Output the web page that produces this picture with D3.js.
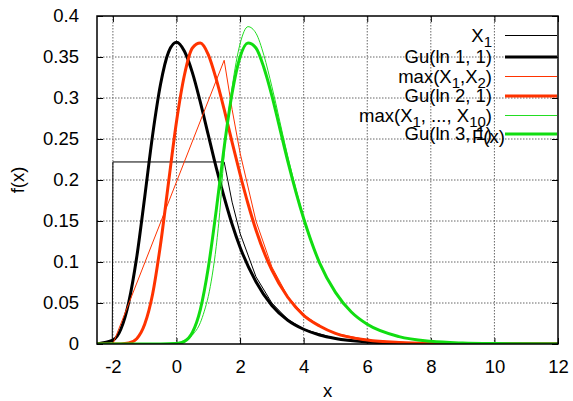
<!DOCTYPE html>
<meta charset="utf-8">
<style>
body { margin: 0; background: #fff; }
svg text { font-family: "Liberation Sans", Arial, sans-serif; font-size: 18.5px; fill: #000; }
.grid line { stroke: #666; stroke-width: 1; stroke-dasharray: 1.5,1.5; }
</style>
<svg width="573" height="401" id="chart"></svg>
<script src="https://d3js.org/d3.v7.min.js"></script>
<script>
// values
var xX1 = [-2.5, -2.02, -2, 1.5, 1.75, 2, 2.5, 3, 3.5, 4, 5, 6, 8, 12];
var yX1 = [0, 0, 0.222, 0.222, 0.173, 0.135, 0.082, 0.050, 0.030, 0.018, 0.0067, 0.0025, 0.0003, 0];

var xGu1 = [-2.5, -2, -1.75, -1.5, -1.25, -1, -0.75, -0.5, -0.25, 0, 0.25, 0.5, 0.75, 1, 1.25, 1.5, 1.75, 2, 2.5, 3, 3.5, 4, 4.5, 5, 6, 7, 8, 10, 12];
var yGu1 = [0.0001, 0.0046, 0.018, 0.051, 0.106, 0.179, 0.255, 0.317, 0.356, 0.368, 0.357, 0.331, 0.295, 0.255, 0.215, 0.179, 0.146, 0.118, 0.076, 0.047, 0.029, 0.018, 0.011, 0.0067, 0.0025, 0.0009, 0.0003, 0, 0];

var xMax2 = [-2.5, -2, 1.5, 1.75, 2, 2.5, 3, 3.5, 4, 4.5, 5, 6, 7, 8, 10, 12];
var yMax2 = [0, 0, 0.346, 0.286, 0.233, 0.150, 0.094, 0.058, 0.036, 0.022, 0.013, 0.0049, 0.0018, 0.0007, 0, 0];

var xGu2 = [-2.5, -2, -1.75, -1.5, -1.25, -1, -0.75, -0.5, -0.25, 0, 0.25, 0.5, 0.75, 1, 1.25, 1.5, 1.75, 2, 2.25, 2.5, 3, 3.5, 4, 4.5, 5, 6, 7, 8, 10, 12];
var yGu2 = [0, 0, 0.0001, 0.0012, 0.0065, 0.024, 0.061, 0.122, 0.197, 0.271, 0.328, 0.361, 0.367, 0.353, 0.323, 0.286, 0.246, 0.207, 0.171, 0.139, 0.090, 0.057, 0.035, 0.022, 0.013, 0.0049, 0.0018, 0.0007, 0.0001, 0];

var xMax10 = [-2.5, -2, -0.5, 0, 0.25, 0.5, 0.75, 0.875, 1, 1.125, 1.25, 1.375, 1.5, 1.75, 2, 2.25, 2.5, 2.75, 3, 3.5, 4, 4.5, 5, 5.5, 6, 7, 8, 9, 10, 12];
var yMax10 = [0, 0, 0.0001, 0.0015, 0.0043, 0.011, 0.026, 0.040, 0.058, 0.084, 0.119, 0.167, 0.232, 0.313, 0.366, 0.387, 0.379, 0.352, 0.314, 0.229, 0.155, 0.100, 0.063, 0.039, 0.024, 0.009, 0.0033, 0.0012, 0.0005, 0.0001];

var xGu3 = [-2.5, -0.5, 0, 0.25, 0.5, 0.75, 1, 1.25, 1.5, 1.75, 2, 2.25, 2.5, 2.75, 3, 3.25, 3.5, 4, 4.5, 5, 5.5, 6, 7, 8, 9, 10, 12];
var yGu3 = [0, 0, 0.0005, 0.0032, 0.014, 0.042, 0.093, 0.163, 0.240, 0.306, 0.350, 0.367, 0.361, 0.337, 0.303, 0.263, 0.223, 0.153, 0.099, 0.063, 0.039, 0.024, 0.009, 0.0033, 0.0012, 0.0005, 0.0001];

var xTicks = [-2, 0, 2, 4, 6, 8, 10, 12];
var yTicks = [0, 0.05, 0.1, 0.15, 0.2, 0.25, 0.3, 0.35, 0.4];

var series = [
  {name: "X1", xs: xX1, ys: yX1, color: "#000000", w: 1, linear: true},
  {name: "Gu1", xs: xGu1, ys: yGu1, color: "#000000", w: 3},
  {name: "max2", xs: xMax2, ys: yMax2, color: "#ff3300", w: 1, linear: true},
  {name: "Gu2", xs: xGu2, ys: yGu2, color: "#ff3300", w: 3},
  {name: "max10", xs: xMax10, ys: yMax10, color: "#22dd22", w: 1},
  {name: "Gu3", xs: xGu3, ys: yGu3, color: "#11dd11", w: 3}
];

var pL = 97, pR = 558, pT = 16, pB = 344;
var svg = d3.select("#chart");
var x = d3.scaleLinear().domain([-2.5, 12]).range([pL, pR]);
var y = d3.scaleLinear().domain([0, 0.4]).range([pB, pT]);

// grid
var grid = svg.append("g").attr("class", "grid");
grid.selectAll(".gx").data(xTicks.filter(d => d > -2.5 && d < 12)).enter().append("line")
  .attr("x1", d => x(d)).attr("x2", d => x(d)).attr("y1", pT).attr("y2", pB);
grid.selectAll(".gy").data(yTicks.filter(d => d > 0 && d < 0.4)).enter().append("line")
  .attr("x1", pL).attr("x2", pR).attr("y1", d => y(d)).attr("y2", d => y(d));

// axes with inward ticks, mirrored
function styleAxis(g) {
  g.select(".domain").remove();
  g.selectAll(".tick line").attr("stroke", "#000");
  g.selectAll(".tick text").attr("font-size", null).attr("font-family", null);
}
svg.append("g").attr("transform", "translate(0," + pB + ")")
  .call(d3.axisBottom(x).tickValues(xTicks).tickSizeInner(-6).tickPadding(16).tickFormat(d => String(d)))
  .call(styleAxis);
svg.append("g").attr("transform", "translate(0," + pT + ")")
  .call(d3.axisTop(x).tickValues(xTicks).tickSizeInner(-6).tickFormat(""))
  .call(styleAxis);
svg.append("g").attr("transform", "translate(" + pL + ",0)")
  .call(d3.axisLeft(y).tickValues(yTicks).tickSizeInner(-6).tickPadding(18).tickFormat(d => String(+d.toFixed(2))))
  .call(styleAxis);
svg.append("g").attr("transform", "translate(" + pR + ",0)")
  .call(d3.axisRight(y).tickValues(yTicks).tickSizeInner(-6).tickFormat(""))
  .call(styleAxis);

// curves
svg.append("clipPath").attr("id", "clip").append("rect")
  .attr("x", pL).attr("y", pT).attr("width", pR - pL).attr("height", pB - pT);
var plot = svg.append("g").attr("clip-path", "url(#clip)");
series.forEach(function(s) {
  var pts = s.xs.map((v, i) => [v, s.ys[i]]);
  var line = d3.line().x(d => x(d[0])).y(d => y(d[1]))
    .curve(s.linear ? d3.curveLinear : d3.curveMonotoneX);
  plot.append("path").datum(pts).attr("d", line)
    .attr("fill", "none").attr("stroke", s.color).attr("stroke-width", s.w)
    .attr("stroke-linejoin", "round");
});

// frame
svg.append("rect").attr("x", pL).attr("y", pT).attr("width", pR - pL).attr("height", pB - pT)
  .attr("fill", "none").attr("stroke", "#000").attr("stroke-width", 1.5);

// axis titles
svg.append("text").attr("x", (pL + pR) / 2).attr("y", 397).attr("text-anchor", "middle").text("x");
svg.append("text").attr("transform", "translate(24,180) rotate(-90)").attr("text-anchor", "middle").text("f(x)");

// legend
var legendY = [35.5, 57, 76.5, 96, 115.5, 134];
var labels = [
  [{t: "X"}, {t: "1", sub: true}],
  [{t: "Gu(ln 1, 1)"}],
  [{t: "max(X"}, {t: "1", sub: true}, {t: ",X"}, {t: "2", sub: true}, {t: ")"}],
  [{t: "Gu(ln 2, 1)"}],
  [{t: "max(X"}, {t: "1", sub: true}, {t: ", ..., X"}, {t: "10", sub: true}, {t: ")"}],
  [{t: "Gu(ln 3, 1)"}]
];
var leg = svg.append("g");
series.forEach(function(s, i) {
  var ly = legendY[i];
  var txt = leg.append("text").attr("x", 492).attr("y", Math.round(ly) + 6).attr("text-anchor", "end");
  labels[i].forEach(function(p, j) {
    var ts = txt.append("tspan").text(p.t);
    if (p.sub) ts.attr("dy", 5).attr("font-size", "15px");
    else if (j > 0 && labels[i][j - 1].sub) ts.attr("dy", -5);
  });
  leg.append("line").attr("x1", 505).attr("x2", 557).attr("y1", ly).attr("y2", ly)
    .attr("stroke", s.color).attr("stroke-width", s.w);
});
// overlapping F(x) text near last key entry
leg.append("text").attr("x", 472).attr("y", 143).text("F(x)");
</script>
